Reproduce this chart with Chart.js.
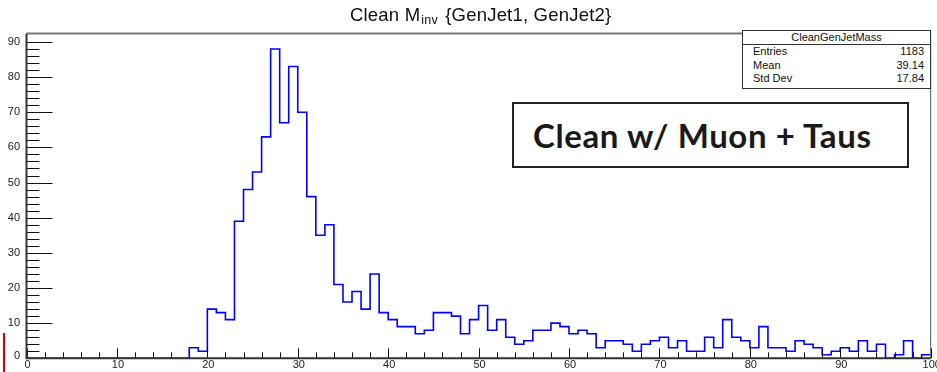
<!DOCTYPE html>
<html>
<head>
<meta charset="utf-8">
<script src="https://cdn.jsdelivr.net/npm/chart.js@4.4.1/dist/chart.umd.min.js"></script>
<style>
    body { margin: 0; background: #fff; }
    #wrap { position: relative; width: 937px; height: 372px; overflow: hidden; background: #fff; }
    #massChart { position: absolute; left: 0; top: 0; }
    #title {
        position: absolute; left: 350px; top: 4px; white-space: nowrap;
        font-family: "Liberation Sans", Arial, sans-serif; font-size: 18.5px; color: #111;
        letter-spacing: 0.2px;
    }
    #title sub { font-size: 12.5px; position: relative; top: 3px; vertical-align: baseline; margin-left: 1px; margin-right: 2px; }
    #stats {
        position: absolute; left: 742px; top: 30px; width: 187px; height: 57px;
        border: 1px solid #333; background: #fff;
        font-family: "Liberation Sans", Arial, sans-serif; font-size: 11px; color: #111;
    }
    #stats .head { height: 13px; line-height: 13px; text-align: center; border-bottom: 1px solid #333; }
    #stats .row { height: 13.5px; line-height: 13.5px; padding: 0 6px 0 10px; display: flex; justify-content: space-between; }
    #label {
        position: absolute; left: 512px; top: 102px; width: 374px; height: 62px;
        border: 2px solid #222; background: #fff;
        display: flex; align-items: center; padding-left: 19px; box-sizing: content-box;
        font-family: Lato, "Open Sans", sans-serif; font-weight: bold; font-size: 33px;
        letter-spacing: 0.6px; color: #1a1a1a;
    }
    #marker { position: absolute; left: 3px; top: 333px; width: 2px; height: 39px; background: #d40000; }
</style>
</head>
<body>
<div id="wrap">
    <canvas id="massChart" width="937" height="372"></canvas>
    <div id="title">Clean M<sub>inv</sub> {GenJet1, GenJet2}</div>
    <div id="stats">
        <div class="head">CleanGenJetMass</div>
        <div class="row"><span>Entries</span><span id="statEntries"></span></div>
        <div class="row"><span>Mean</span><span id="statMean"></span></div>
        <div class="row"><span>Std Dev</span><span id="statStd"></span></div>
    </div>
    <div id="label">Clean w/ Muon + Taus</div>
    <div id="marker"></div>
</div>
<script>
// bin contents, 1 GeV bins from 0 to 100
const binLow = 0;
const binWidth = 1;
const counts = [
    0, 0, 0, 0, 0, 0, 0, 0, 0, 0,
    0, 0, 0, 0, 0, 0, 0, 0, 3, 2,
    14, 13, 11, 39, 48, 53, 63, 88, 67, 83,
    70, 46, 35, 38, 21, 16, 19, 14, 24, 13,
    11, 9, 9, 7, 8, 13, 13, 12, 7, 11,
    15, 8, 11, 6, 4, 5, 8, 8, 10, 9,
    7, 8, 7, 3, 5, 5, 4, 2, 4, 5,
    6, 3, 5, 2, 2, 6, 3, 11, 6, 5,
    3, 9, 3, 3, 2, 5, 4, 3, 1, 2,
    3, 2, 5, 2, 4, 0, 1, 5, 0, 1
];
const statLabels = ['Entries', 'Mean', 'Std Dev'];
const statValues = ['1183', '39.14', '17.84'];
const xTickLabels = [0, 10, 20, 30, 40, 50, 60, 70, 80, 90, 100];
const yTickLabels = [0, 10, 20, 30, 40, 50, 60, 70, 80, 90];
const yMax = 92.4;

document.addEventListener('DOMContentLoaded', function () {
    document.getElementById('statEntries').textContent = statValues[0];
    document.getElementById('statMean').textContent = statValues[1];
    document.getElementById('statStd').textContent = statValues[2];

    // left edge of every bin, plus the upper edge so the last bin gets its width
    const points = counts.map((c, i) => ({ x: binLow + i * binWidth, y: c }));
    points.push({ x: binLow + counts.length * binWidth, y: counts[counts.length - 1] });

    // ROOT style frame: inward ticks, drawn on top of the histogram
    const rootFrame = {
        id: 'rootFrame',
        afterDatasetsDraw(chart) {
            const { ctx, chartArea: a, scales: { x, y } } = chart;
            ctx.save();

            ctx.strokeStyle = '#111';
            ctx.lineWidth = 1;
            ctx.beginPath();
            y.ticks.forEach(t => {
                if (t.value % 2 !== 0) return;
                const py = Math.round(y.getPixelForValue(t.value)) + 0.5;
                const len = t.value % 10 === 0 ? 26 : 13;
                ctx.moveTo(a.left, py);
                ctx.lineTo(a.left + len, py);
            });
            x.ticks.forEach(t => {
                if (t.value % 2 !== 0) return;
                const px = Math.round(x.getPixelForValue(t.value)) + 0.5;
                const len = t.value % 10 === 0 ? 10 : 6;
                ctx.moveTo(px, a.bottom);
                ctx.lineTo(px, a.bottom - len);
            });
            ctx.stroke();

            // frame
            ctx.lineWidth = 2;
            ctx.strokeStyle = '#777';
            ctx.beginPath();
            ctx.moveTo(a.left, a.top);
            ctx.lineTo(a.right, a.top);
            ctx.stroke();
            ctx.strokeStyle = '#333';
            ctx.beginPath();
            ctx.moveTo(a.left, a.top);
            ctx.lineTo(a.left, a.bottom);
            ctx.lineTo(a.right, a.bottom);
            ctx.stroke();
            ctx.lineWidth = 1;
            ctx.strokeStyle = '#555';
            ctx.beginPath();
            ctx.moveTo(a.right, a.top);
            ctx.lineTo(a.right, a.bottom);
            ctx.stroke();

            // tick labels
            ctx.fillStyle = '#222';
            ctx.font = '11px "Liberation Sans", Arial, sans-serif';
            ctx.textAlign = 'right';
            ctx.textBaseline = 'middle';
            yTickLabels.forEach(v => {
                ctx.fillText(String(v), 20, y.getPixelForValue(v) - (v === 0 ? 2 : 0));
            });
            ctx.textAlign = 'center';
            xTickLabels.forEach(v => {
                ctx.fillText(String(v), x.getPixelForValue(v) + 1, a.bottom + 7);
            });
            ctx.restore();
        }
    };

    const massCtx = document.getElementById('massChart').getContext('2d');
    const massChart = new Chart(massCtx, {
        type: 'line',
        data: {
            datasets: [{
                label: 'CleanGenJetMass',
                data: points,
                stepped: 'before',
                borderColor: '#0000ff',
                borderWidth: 1.6,
                pointRadius: 0,
                fill: false
            }]
        },
        options: {
            responsive: false,
            animation: false,
            layout: {
                padding: { left: 0, top: 33.5, right: 6.3, bottom: 0 }
            },
            plugins: {
                legend: { display: false },
                tooltip: { enabled: false }
            },
            scales: {
                x: {
                    type: 'linear',
                    min: 0,
                    max: 100,
                    grid: { display: false },
                    border: { display: false },
                    ticks: { display: false, stepSize: 2 },
                    afterFit: (s) => { s.height = 13.7; }
                },
                y: {
                    min: 0,
                    max: yMax,
                    grid: { display: false },
                    border: { display: false },
                    ticks: { display: false, stepSize: 2 },
                    afterFit: (s) => { s.width = 26.5; }
                }
            }
        },
        plugins: [rootFrame]
    });
});
</script>
</body>
</html>
